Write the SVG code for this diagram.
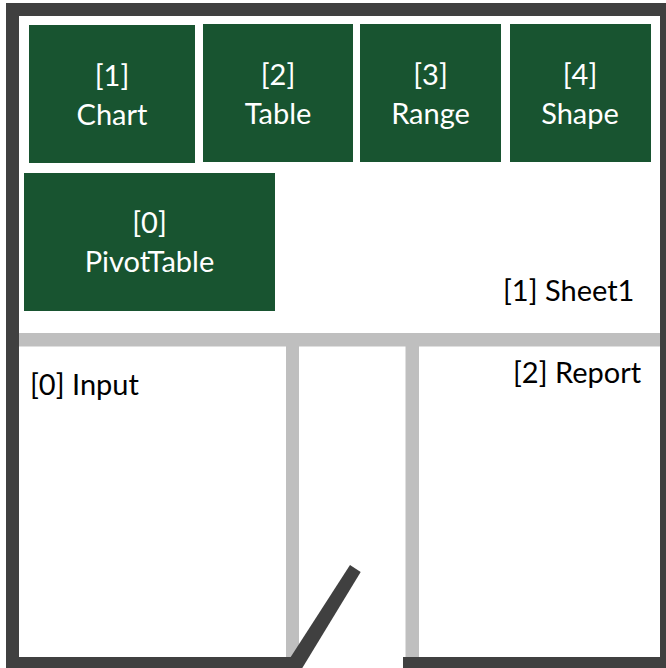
<svg xmlns="http://www.w3.org/2000/svg" width="666" height="668" viewBox="0 0 666 668">
<style>
.w{fill:#404040}.g{fill:#bfbfbf}.b{fill:#185430}
text{font-family:"Lato","Liberation Sans",sans-serif;font-size:29px}
.n{fill:#fff;text-anchor:middle}.l{fill:#000}
</style>
<rect width="666" height="668" fill="#fff"/>
<g id="walls">
<rect class="g" x="19" y="333" width="641" height="13.5"/>
<rect class="g" x="286" y="346" width="13" height="311"/>
<rect class="g" x="405.500" y="346" width="13.500" height="311"/>
<rect class="w" x="6" y="3" width="660" height="13"/>
<rect class="w" x="6" y="3" width="13" height="665"/>
<rect class="w" x="660" y="3" width="6" height="665"/>
<rect class="w" x="6" y="657" width="285" height="11"/>
<rect class="w" x="403" y="657" width="263" height="11"/>
<polygon class="w" points="350,565 360.700,572 302.300,668 290.700,668 290.700,657"/>
</g>
<g id="chart"><rect class="b" x="29" y="25" width="166" height="138"/><text class="n" x="112" y="86">[1]</text><text class="n" x="112" y="125">Chart</text></g>
<g id="table"><rect class="b" x="203" y="24" width="150" height="138"/><text class="n" x="278" y="85">[2]</text><text class="n" x="278" y="124">Table</text></g>
<g id="range"><rect class="b" x="360" y="24" width="141" height="138"/><text class="n" x="430.500" y="85">[3]</text><text class="n" x="430.500" y="124">Range</text></g>
<g id="shape"><rect class="b" x="510" y="24" width="141" height="138"/><text class="n" x="580" y="85">[4]</text><text class="n" x="580" y="124">Shape</text></g>
<g id="pivottable"><rect class="b" x="24" y="173" width="251" height="138"/><text class="n" x="149.500" y="233">[0]</text><text class="n" x="149.500" y="272">PivotTable</text></g>
<g id="labels">
<text class="l" x="503" y="301">[1] Sheet1</text>
<text class="l" x="513" y="383">[2] Report</text>
<text class="l" x="30" y="395">[0] Input</text>
</g>
</svg>
